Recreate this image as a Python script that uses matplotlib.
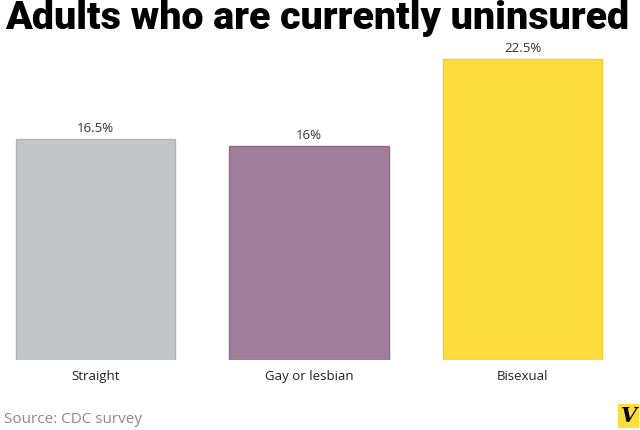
import matplotlib.pyplot as plt

categorias = ['Straight', 'Gay or lesbian', 'Bisexual']
valores = [16.5, 16, 22.5]
rotulos = ['16.5%', '16%', '22.5%']
cores = ['#c4c5c7', '#a07d9a', '#fddc3d']
bordas = ['#b3b4b6', '#8f6c89', '#f2cf2c']

fig = plt.figure(figsize=(6.4, 4.3), dpi=100, facecolor='white')
ax = fig.add_axes([0, 70 / 430, 1, 320 / 430])

x = range(len(categorias))
ax.bar(x, valores, width=0.745, color=cores, edgecolor=bordas, linewidth=1)

for xi, v, r in zip(x, valores, rotulos):
    ax.annotate(r, (xi, v), xytext=(0, 2.5), textcoords='offset points',
                ha='center', va='bottom', fontsize=9.5, color='#333333',
                family='Open Sans')

ax.set_xlim(-95.5 / 213.5, (640 - 95.5) / 213.5)
ax.set_ylim(0, 320 / 13.4)
ax.set_xticks(list(x))
ax.set_xticklabels(categorias, fontsize=9.5, color='#222222', family='Open Sans')
ax.tick_params(axis='x', length=0, pad=7)
ax.set_yticks([])
for s in ax.spines.values():
    s.set_visible(False)

# titulo - ajusta o tamanho para ocupar a largura
titulo = fig.text(0.008, 0.999, 'Adults who are currently uninsured', ha='left', va='top',
                  fontsize=26, fontweight='black', color='black', family='Roboto')
fig.canvas.draw()
r = fig.canvas.get_renderer()
w = titulo.get_window_extent(r).width
titulo.set_fontsize(26 * 626 / w)

# fonte
fig.text(0.006, 0.008, 'Source: CDC survey', ha='left', va='bottom',
         fontsize=11, color='#8a8a8a', family='Open Sans')

# logo
fig.text(0.995, 0.01, 'V', ha='right', va='bottom', fontsize=15, fontweight='bold',
         fontstyle='italic', color='black', family='DejaVu Serif',
         bbox=dict(boxstyle='square,pad=0.1', facecolor='#fddc3d', edgecolor='none'))

fig.savefig('out.png', dpi=100)
